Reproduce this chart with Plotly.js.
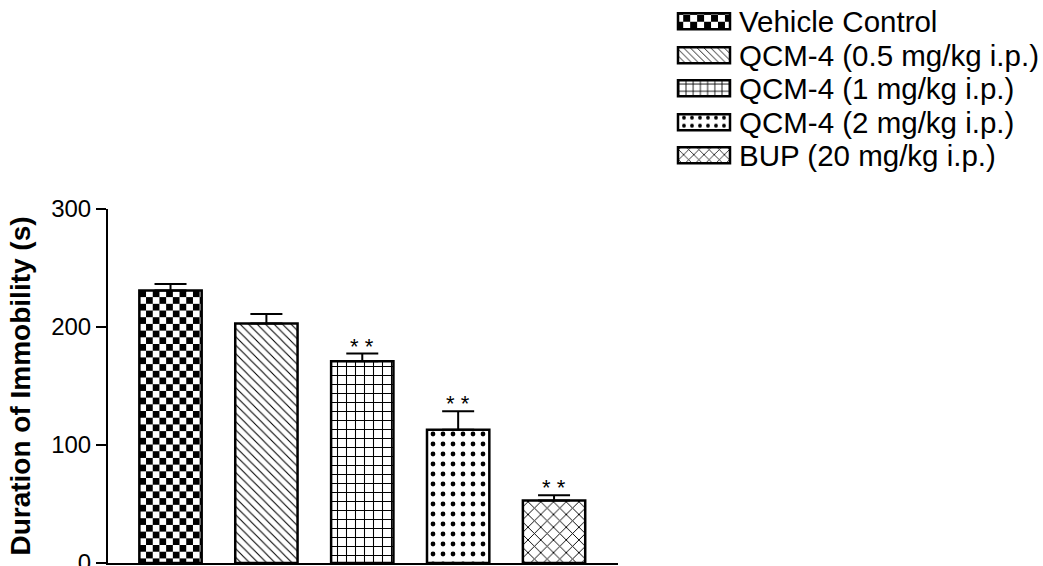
<!DOCTYPE html>
<html><head><meta charset="utf-8">
<script src="https://cdn.plot.ly/plotly-3.0.1.min.js"></script>
<style>html,body{margin:0;padding:0;background:#fff;}</style>
</head><body>
<div id="chart" style="width:1043px;height:566px;"></div>
<script>
// ---- data ----
const categories = ["Vehicle Control", "QCM-4 (0.5 mg/kg i.p.)", "QCM-4 (1 mg/kg i.p.)", "QCM-4 (2 mg/kg i.p.)", "BUP (20 mg/kg i.p.)"];
const immobility = [231, 203, 171, 113, 53];
const sem = [5.5, 8, 6.5, 15.5, 4.5];
const significance = ["", "", "* *", "* *", "* *"];
const yTicks = [0, 100, 200, 300];

// ---- styles ----
const FONT = "Liberation Sans, Arial, Helvetica, sans-serif";
const LEGEND_FS = 29.5;
const W = 1043, H = 566;
const patterns = [
  {shape: ".", size: 13, solidity: 0.3},   // replaced by checkerboard after render
  {shape: "\\", size: 6, solidity: 0.18},
  {shape: "+", size: 9, solidity: 0.22},
  {shape: ".", size: 10, solidity: 0.18},
  {shape: "x", size: 9, solidity: 0.2}
];
const legendRowsPx = [21, 55, 88, 122, 155];
const plotTop = 209, plotBottom = 563;

const traces = categories.map((c, i) => ({
  type: "bar",
  name: c,
  x: [c],
  y: [immobility[i]],
  width: 0.65,
  legend: i === 0 ? "legend" : "legend" + (i + 1),
  marker: {
    color: "white",
    line: {color: "black", width: 2.5},
    pattern: {shape: patterns[i].shape, size: patterns[i].size, solidity: patterns[i].solidity,
              fgcolor: "black", bgcolor: "white", fillmode: "replace"}
  },
  error_y: {type: "data", symmetric: false, array: [sem[i]], arrayminus: [0],
            color: "black", thickness: 2, width: 16},
  hoverinfo: "skip"
}));

const annotations = categories.map((c, i) => ({
  x: c, y: immobility[i] + sem[i], xref: "x", yref: "y",
  text: significance[i], showarrow: false, yanchor: "bottom",
  yshift: -7, font: {family: FONT, size: 22, color: "black"}
})).filter((a, i) => significance[i] !== "");

const layout = {
  width: W, height: H,
  margin: {l: 108, r: 425, t: plotTop, b: H - plotBottom, pad: 0},
  paper_bgcolor: "white", plot_bgcolor: "white",
  barmode: "overlay",
  showlegend: true,
  font: {family: FONT, color: "black"},
  xaxis: {
    type: "category", range: [-0.652, 4.667], showticklabels: false, ticks: "",
    showline: true, linecolor: "black", linewidth: 2, showgrid: false, zeroline: false, fixedrange: true
  },
  yaxis: {
    range: [0, 300], tickvals: yTicks, ticktext: yTicks.map(String),
    ticks: "outside", ticklen: 10, tickwidth: 2, tickcolor: "black",
    ticklabeloverflow: "allow",
    showline: true, linecolor: "black", linewidth: 2, showgrid: false, zeroline: false,
    tickfont: {family: FONT, size: 24, color: "black"},
    title: {text: "<b>Duration of Immobility (s)</b>", font: {family: FONT, size: 28, color: "black"}, standoff: 12},
    automargin: false, fixedrange: true
  },
  annotations: annotations
};
legendRowsPx.forEach((py, i) => {
  layout[i === 0 ? "legend" : "legend" + (i + 1)] = {
    xref: "container", yref: "container",
    x: 669 / W, xanchor: "left",
    y: 1 - py / H, yanchor: "middle",
    bgcolor: "rgba(0,0,0,0)", borderwidth: 0, itemwidth: 60,
    font: {family: FONT, size: LEGEND_FS, color: "black"}
  };
});

function patternIdOf(el) {
  const f = el.style.fill || el.getAttribute("fill") || "";
  const m = f.match(/#([^"')\s]+)/);
  return m ? m[1] : null;
}
function makeChecker(pat, cell, ox, oy) {
  const ns = "http://www.w3.org/2000/svg";
  while (pat.firstChild) pat.removeChild(pat.firstChild);
  pat.setAttribute("patternUnits", "userSpaceOnUse");
  pat.setAttribute("width", 2 * cell); pat.setAttribute("height", 2 * cell);
  pat.setAttribute("x", ox); pat.setAttribute("y", oy);
  const add = (x, y, w, h, c) => { const r = document.createElementNS(ns, "rect");
    r.setAttribute("x", x); r.setAttribute("y", y); r.setAttribute("width", w); r.setAttribute("height", h);
    r.setAttribute("fill", c); pat.appendChild(r); };
  add(0, 0, 2 * cell, 2 * cell, "#fff");
  add(0, 0, cell, cell, "#000");
  add(cell, cell, cell, cell, "#000");
}

function tweak(gd) {
  const svg = gd.querySelector("svg.main-svg");
  // widen legend swatches
  gd.querySelectorAll("g.traces").forEach(item => {
    try {
      const text = item.querySelector("text");
      const paths = item.querySelectorAll("g.legendpoints path");
      if (!text || !paths.length) return;
      const tb = text.getBoundingClientRect();
      const fs = LEGEND_FS;
      const cy = tb.top + 0.547 * fs + (tb.height - 1.117 * fs) / 2;
      const right = tb.left - 9, left = right - 52, top = cy - 8, bottom = cy + 8;
      paths.forEach(path => {
        if (path.getBBox().width > 30) return;
        const inv = path.getScreenCTM().inverse();
        const toLocal = (x, y) => { const p = svg.createSVGPoint(); p.x = x; p.y = y; return p.matrixTransform(inv); };
        const a = toLocal(left, top), b = toLocal(right, bottom);
        path.setAttribute("d", `M${a.x},${a.y}H${b.x}V${b.y}H${a.x}Z`);
        path.style.strokeWidth = "2.5px";
        path.style.stroke = "black";
      });
    } catch (e) { console.log(e); }
  });
  // checkerboard for trace 0 (bar + legend swatch)
  const barPath = gd.querySelector("g.barlayer g.trace path");
  if (barPath) {
    const id = patternIdOf(barPath);
    const bb = barPath.getBBox();
    if (id) { const pat = document.getElementById(id); if (pat) makeChecker(pat, 6.7, bb.x, bb.y); }
  }
  const first = gd.querySelector("g.legend g.traces g.legendpoints path");
  if (first) {
    const id = patternIdOf(first);
    const bb = first.getBBox();
    if (id) { const pat = document.getElementById(id); if (pat) makeChecker(pat, 8.7, bb.x, bb.y); }
  }
}

const gd = document.getElementById("chart");
Plotly.newPlot(gd, traces, layout, {displayModeBar: false, staticPlot: true}).then(() => {
  tweak(gd);
  setTimeout(() => tweak(gd), 50);
  setTimeout(() => tweak(gd), 300);
});
</script>
</body></html>
